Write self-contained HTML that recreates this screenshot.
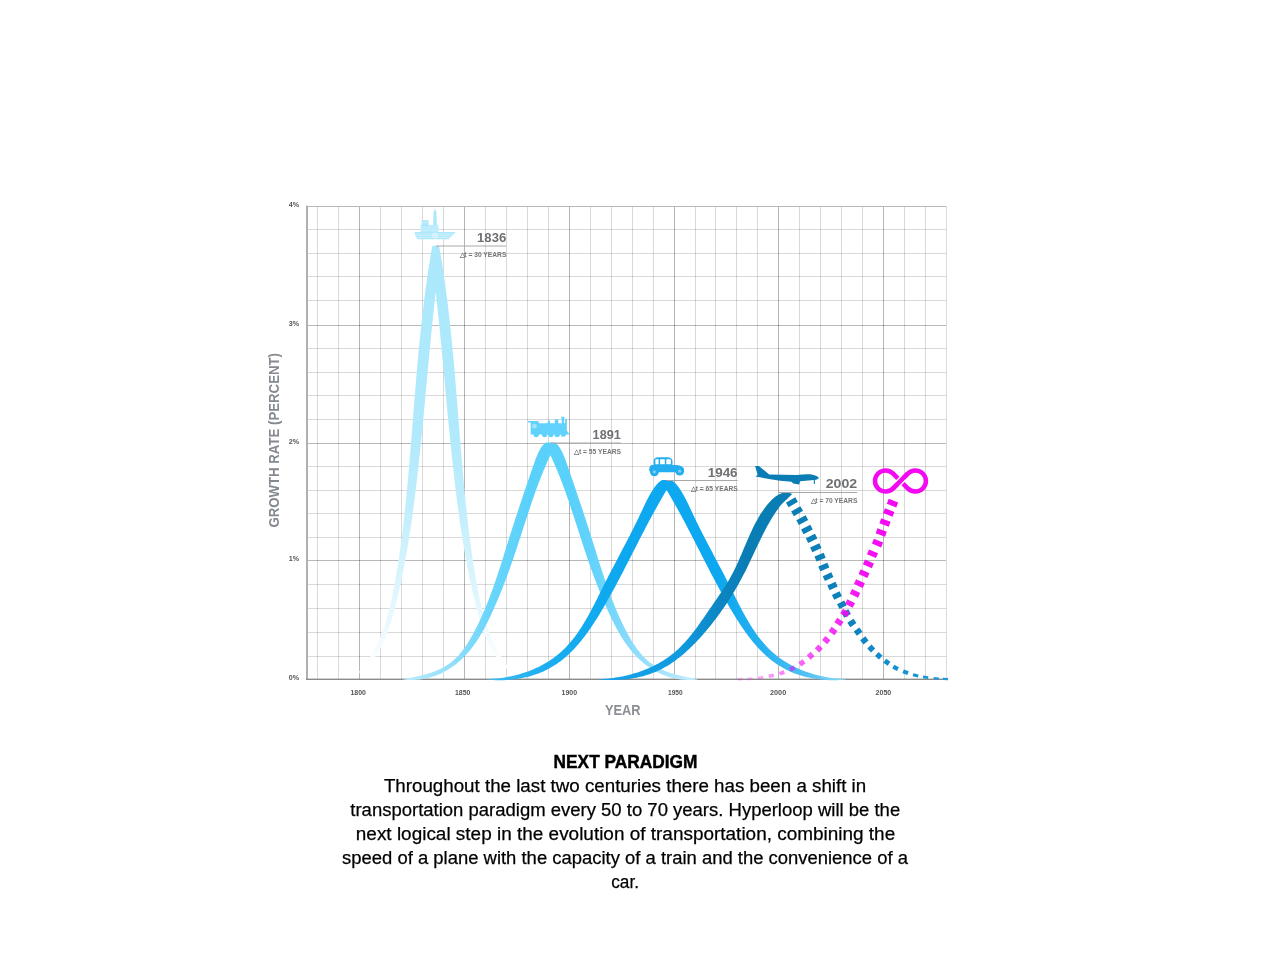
<!DOCTYPE html>
<html lang="en">
<head>
<meta charset="utf-8">
<title>Next Paradigm</title>
<style>
html,body{margin:0;padding:0;background:#fff;}
body{width:1280px;height:960px;overflow:hidden;position:relative;}
svg{position:absolute;left:0;top:0;display:block;font-family:"Liberation Sans",sans-serif;}
</style>
</head>
<body>
<svg width="1280" height="960" viewBox="0 0 1280 960">
<defs>
<linearGradient id="g1" gradientUnits="userSpaceOnUse" x1="0" y1="246" x2="0" y2="680"><stop offset="0" stop-color="#ace8fb"/><stop offset="0.4009" stop-color="#aee9fc"/><stop offset="0.5853" stop-color="#beedfc"/><stop offset="0.7235" stop-color="#d3f3fd"/><stop offset="0.8618" stop-color="#e9f8fe"/><stop offset="0.9539" stop-color="#fbfeff"/><stop offset="1" stop-color="#ffffff"/></linearGradient>
<linearGradient id="g2" gradientUnits="userSpaceOnUse" x1="402" y1="0" x2="697" y2="0"><stop offset="0" stop-color="#bdecfc"/><stop offset="0.1458" stop-color="#98e0fa"/><stop offset="0.2983" stop-color="#6ad5fb"/><stop offset="0.4339" stop-color="#5ad1fb"/><stop offset="0.5864" stop-color="#5ad1fb"/><stop offset="0.6712" stop-color="#68d4fb"/><stop offset="0.7559" stop-color="#84dafb"/><stop offset="0.8746" stop-color="#a4e3fb"/><stop offset="1" stop-color="#c6eefd"/></linearGradient>
<linearGradient id="g3" gradientUnits="userSpaceOnUse" x1="486" y1="0" x2="846" y2="0"><stop offset="0" stop-color="#3cbaf3"/><stop offset="0.2056" stop-color="#17acf0"/><stop offset="0.3722" stop-color="#0da8ef"/><stop offset="0.65" stop-color="#0da8ef"/><stop offset="0.7611" stop-color="#25b0f0"/><stop offset="0.8722" stop-color="#4bbff2"/><stop offset="1" stop-color="#86d6f7"/></linearGradient>
<linearGradient id="g4" gradientUnits="userSpaceOnUse" x1="599" y1="0" x2="793" y2="0"><stop offset="0" stop-color="#16a4ea"/><stop offset="0.4175" stop-color="#109be0"/><stop offset="0.5979" stop-color="#0c88c6"/><stop offset="0.7526" stop-color="#0a7db5"/><stop offset="1" stop-color="#0a7db5"/></linearGradient>
<linearGradient id="g4d" gradientUnits="userSpaceOnUse" x1="790" y1="0" x2="946" y2="0"><stop offset="0" stop-color="#0a7db5"/><stop offset="0.3846" stop-color="#0d82bc"/><stop offset="0.641" stop-color="#128fcf"/><stop offset="1" stop-color="#1a9cde"/></linearGradient>
<linearGradient id="g5" gradientUnits="userSpaceOnUse" x1="745" y1="0" x2="895" y2="0"><stop offset="0" stop-color="#f408f2" stop-opacity="0.2"/><stop offset="0.2" stop-color="#f408f2" stop-opacity="0.45"/><stop offset="0.4333" stop-color="#f408f2" stop-opacity="0.68"/><stop offset="0.6333" stop-color="#f408f2" stop-opacity="0.86"/><stop offset="0.8" stop-color="#f408f2" stop-opacity="0.97"/><stop offset="1" stop-color="#f408f2"/></linearGradient>
</defs>
<rect width="1280" height="960" fill="#fff"/>
<g id="grid">
<path d="M317.56 206.25V679.4M338.53 206.25V679.4M380.47 206.25V679.4M401.44 206.25V679.4M422.41 206.25V679.4M443.38 206.25V679.4M485.32 206.25V679.4M506.29 206.25V679.4M527.26 206.25V679.4M548.23 206.25V679.4M590.17 206.25V679.4M611.14 206.25V679.4M632.11 206.25V679.4M653.08 206.25V679.4M695.02 206.25V679.4M715.99 206.25V679.4M736.96 206.25V679.4M757.93 206.25V679.4M799.87 206.25V679.4M820.84 206.25V679.4M841.81 206.25V679.4M862.78 206.25V679.4M904.72 206.25V679.4M925.69 206.25V679.4" stroke="#000" stroke-opacity="0.15" stroke-width="1" fill="none" shape-rendering="crispEdges"/>
<path d="M307.25 229.5H946.66M307.25 253.5H946.66M307.25 276.4H946.66M307.25 300.5H946.66M307.25 348.6H946.66M307.25 372.5H946.66M307.25 395.7H946.66M307.25 419.5H946.66M307.25 466.4H946.66M307.25 490.4H946.66M307.25 513.5H946.66M307.25 537.3H946.66M307.25 584.5H946.66M307.25 608.4H946.66M307.25 632.3H946.66M307.25 656H946.66" stroke="#000" stroke-opacity="0.15" stroke-width="1" fill="none" shape-rendering="crispEdges"/>
<path d="M359.5 206.25V679.4M464.35 206.25V679.4M569.2 206.25V679.4M674.05 206.25V679.4M778.9 206.25V679.4M883.75 206.25V679.4" stroke="#000" stroke-opacity="0.29" stroke-width="1" fill="none" shape-rendering="crispEdges"/>
<path d="M307.25 325.5H946.66M307.25 443.3H946.66M307.25 560.5H946.66" stroke="#000" stroke-opacity="0.28" stroke-width="1" fill="none" shape-rendering="crispEdges"/>
<rect x="306" y="206" width="641" height="1" fill="#b8b8b8"/>
<rect x="946" y="206" width="1" height="473" fill="#dcdcdc"/>
<rect x="306" y="205.6" width="2" height="474.4" fill="#b0b0b0"/>
<rect x="306" y="678.6" width="641.2" height="1.4" fill="#8a8a8a"/>
</g>
<g id="curves">
<path d="M359.2 671.5L361.32 669.08L363.34 666.61L365.28 664.11L367.13 661.56L368.9 658.98L370.59 656.36L372.21 653.71L373.75 651.02L375.22 648.3L376.62 645.55L377.96 642.76L379.23 639.95L380.44 637.12L381.59 634.25L382.69 631.37L383.73 628.45L384.73 625.52L385.67 622.57L386.57 619.6L387.43 616.61L388.25 613.6L389.03 610.58L389.77 607.54L390.49 604.5L391.17 601.44L391.83 598.37L392.46 595.29L393.08 592.21L393.67 589.12L394.24 586.03L394.81 582.93L395.36 579.83L395.89 576.73L396.42 573.63L396.93 570.53L397.44 567.42L397.93 564.31L398.41 561.2L398.88 558.09L399.34 554.97L399.79 551.86L400.23 548.74L400.66 545.62L401.08 542.5L401.49 539.38L401.89 536.26L402.28 533.13L402.67 530.01L403.05 526.88L403.41 523.75L403.78 520.62L404.13 517.49L404.48 514.36L404.82 511.23L405.15 508.1L405.48 504.97L405.8 501.84L406.12 498.7L406.43 495.57L406.73 492.43L407.03 489.3L407.33 486.16L407.62 483.03L407.9 479.89L408.18 476.76L408.46 473.62L408.74 470.49L409.01 467.35L409.28 464.22L409.54 461.09L409.81 457.95L410.07 454.82L410.33 451.69L410.58 448.55L410.84 445.42L411.09 442.29L411.34 439.15L411.59 436.02L411.84 432.89L412.09 429.76L412.34 426.63L412.59 423.5L412.83 420.37L413.08 417.24L413.33 414.11L413.58 410.98L413.82 407.85L414.07 404.72L414.32 401.6L414.57 398.47L414.83 395.34L415.08 392.22L415.33 389.09L415.59 385.96L415.85 382.84L416.11 379.71L416.38 376.59L416.64 373.46L416.91 370.34L417.19 367.22L417.46 364.09L417.74 360.97L418.03 357.85L418.31 354.73L418.6 351.61L418.9 348.49L419.2 345.37L419.5 342.25L419.81 339.13L420.13 336.01L420.45 332.89L420.77 329.77L421.1 326.66L421.44 323.54L421.78 320.42L422.13 317.31L422.48 314.19L422.84 311.08L423.21 307.96L423.59 304.85L423.97 301.74L424.36 298.62L424.76 295.51L425.16 292.4L425.57 289.29L425.99 286.18L426.42 283.07L426.86 279.96L427.31 276.85L427.76 273.74L428.23 270.64L428.7 267.53L429.19 264.42L429.68 261.32L430.18 258.21L430.69 255.11L431.22 252L431.75 248.9L432.3 245.8L439.1 245.8L439.65 248.9L440.18 252L440.71 255.11L441.22 258.21L441.72 261.32L442.21 264.42L442.7 267.53L443.17 270.64L443.64 273.74L444.09 276.85L444.54 279.96L444.98 283.07L445.41 286.18L445.83 289.29L446.24 292.4L446.64 295.51L447.04 298.62L447.43 301.74L447.81 304.85L448.19 307.96L448.56 311.08L448.92 314.19L449.27 317.31L449.62 320.42L449.96 323.54L450.3 326.66L450.63 329.77L450.95 332.89L451.27 336.01L451.59 339.13L451.9 342.25L452.2 345.37L452.5 348.49L452.8 351.61L453.09 354.73L453.37 357.85L453.66 360.97L453.94 364.09L454.21 367.22L454.49 370.34L454.76 373.46L455.02 376.59L455.29 379.71L455.55 382.84L455.81 385.96L456.07 389.09L456.32 392.22L456.57 395.34L456.83 398.47L457.08 401.6L457.33 404.72L457.58 407.85L457.82 410.98L458.07 414.11L458.32 417.24L458.57 420.37L458.81 423.5L459.06 426.63L459.31 429.76L459.56 432.89L459.81 436.02L460.06 439.15L460.31 442.29L460.56 445.42L460.82 448.55L461.07 451.69L461.33 454.82L461.59 457.95L461.86 461.09L462.12 464.22L462.39 467.35L462.66 470.49L462.94 473.62L463.22 476.76L463.5 479.89L463.78 483.03L464.07 486.16L464.37 489.3L464.67 492.43L464.97 495.57L465.28 498.7L465.6 501.84L465.92 504.97L466.25 508.1L466.58 511.23L466.92 514.36L467.27 517.49L467.62 520.62L467.99 523.75L468.35 526.88L468.73 530.01L469.12 533.13L469.51 536.26L469.91 539.38L470.32 542.5L470.74 545.62L471.17 548.74L471.61 551.86L472.06 554.97L472.52 558.09L472.99 561.2L473.47 564.31L473.96 567.42L474.47 570.53L474.98 573.63L475.51 576.73L476.04 579.83L476.59 582.93L477.16 586.03L477.73 589.12L478.32 592.21L478.94 595.29L479.57 598.37L480.23 601.44L480.91 604.5L481.63 607.54L482.37 610.58L483.15 613.6L483.97 616.61L484.83 619.6L485.73 622.57L486.67 625.52L487.67 628.45L488.71 631.37L489.81 634.25L490.96 637.12L492.17 639.95L493.44 642.76L494.78 645.55L496.18 648.3L497.65 651.02L499.19 653.71L500.81 656.36L502.5 658.98L504.27 661.56L506.12 664.11L508.06 666.61L510.08 669.08L512.2 671.5L512.2 673L509.87 671.22L507.65 669.37L505.53 667.45L503.52 665.46L501.6 663.41L499.77 661.3L498.04 659.13L496.39 656.91L494.82 654.63L493.33 652.31L491.92 649.94L490.58 647.52L489.3 645.06L488.09 642.56L486.94 640.03L485.85 637.46L484.81 634.86L483.82 632.24L482.87 629.58L481.97 626.91L481.1 624.21L480.27 621.5L479.46 618.77L478.69 616.02L477.94 613.27L477.2 610.51L476.48 607.75L475.78 604.98L475.09 602.21L474.41 599.44L473.75 596.66L473.09 593.89L472.45 591.11L471.82 588.32L471.2 585.54L470.6 582.75L470 579.96L469.42 577.17L468.85 574.38L468.28 571.58L467.73 568.79L467.19 565.99L466.66 563.19L466.14 560.38L465.63 557.58L465.12 554.77L464.63 551.97L464.15 549.16L463.67 546.35L463.2 543.54L462.74 540.72L462.29 537.91L461.85 535.09L461.42 532.28L460.99 529.46L460.57 526.64L460.16 523.82L459.75 521.01L459.35 518.18L458.96 515.36L458.57 512.54L458.19 509.72L457.81 506.9L457.45 504.07L457.08 501.25L456.72 498.43L456.37 495.6L456.02 492.78L455.68 489.96L455.34 487.13L455 484.31L454.67 481.49L454.34 478.66L454.02 475.84L453.7 473.01L453.38 470.19L453.07 467.37L452.76 464.54L452.45 461.72L452.15 458.9L451.85 456.07L451.55 453.25L451.26 450.43L450.97 447.6L450.68 444.78L450.39 441.95L450.11 439.13L449.83 436.31L449.55 433.48L449.27 430.66L448.99 427.83L448.72 425.01L448.45 422.19L448.18 419.36L447.91 416.54L447.64 413.71L447.37 410.89L447.11 408.07L446.84 405.24L446.58 402.42L446.32 399.59L446.05 396.77L445.79 393.94L445.53 391.12L445.27 388.29L445.01 385.47L444.75 382.65L444.49 379.82L444.22 377L443.96 374.17L443.7 371.35L443.44 368.52L443.17 365.7L442.91 362.87L442.64 360.04L442.38 357.22L442.11 354.39L441.84 351.57L441.57 348.74L441.3 345.92L441.03 343.09L440.75 340.26L440.48 337.44L440.2 334.61L439.92 331.78L439.63 328.96L439.35 326.13L439.06 323.3L438.77 320.48L438.48 317.65L438.18 314.82L437.89 311.99L437.58 309.17L437.28 306.34L436.97 303.51L436.66 300.68L436.35 297.86L436.03 295.03L435.71 292.2L435.69 292.2L435.37 295.03L435.05 297.86L434.74 300.68L434.43 303.51L434.12 306.34L433.82 309.17L433.51 311.99L433.22 314.82L432.92 317.65L432.63 320.48L432.34 323.3L432.05 326.13L431.77 328.96L431.48 331.78L431.2 334.61L430.92 337.44L430.65 340.26L430.37 343.09L430.1 345.92L429.83 348.74L429.56 351.57L429.29 354.39L429.02 357.22L428.76 360.04L428.49 362.87L428.23 365.7L427.96 368.52L427.7 371.35L427.44 374.17L427.18 377L426.91 379.82L426.65 382.65L426.39 385.47L426.13 388.29L425.87 391.12L425.61 393.94L425.35 396.77L425.08 399.59L424.82 402.42L424.56 405.24L424.29 408.07L424.03 410.89L423.76 413.71L423.49 416.54L423.22 419.36L422.95 422.19L422.68 425.01L422.41 427.83L422.13 430.66L421.85 433.48L421.57 436.31L421.29 439.13L421.01 441.95L420.72 444.78L420.43 447.6L420.14 450.43L419.85 453.25L419.55 456.07L419.25 458.9L418.95 461.72L418.64 464.54L418.33 467.37L418.02 470.19L417.7 473.01L417.38 475.84L417.06 478.66L416.73 481.49L416.4 484.31L416.06 487.13L415.72 489.96L415.38 492.78L415.03 495.6L414.68 498.43L414.32 501.25L413.95 504.07L413.59 506.9L413.21 509.72L412.83 512.54L412.44 515.36L412.05 518.18L411.65 521.01L411.24 523.82L410.83 526.64L410.41 529.46L409.98 532.28L409.55 535.09L409.11 537.91L408.66 540.72L408.2 543.54L407.73 546.35L407.25 549.16L406.77 551.97L406.28 554.77L405.77 557.58L405.26 560.38L404.74 563.19L404.21 565.99L403.67 568.79L403.12 571.58L402.55 574.38L401.98 577.17L401.4 579.96L400.8 582.75L400.2 585.54L399.58 588.32L398.95 591.11L398.31 593.89L397.65 596.66L396.99 599.44L396.31 602.21L395.62 604.98L394.92 607.75L394.2 610.51L393.46 613.27L392.71 616.02L391.94 618.77L391.13 621.5L390.3 624.21L389.43 626.91L388.53 629.58L387.58 632.24L386.59 634.86L385.55 637.46L384.46 640.03L383.31 642.56L382.1 645.06L380.82 647.52L379.48 649.94L378.07 652.31L376.58 654.63L375.01 656.91L373.36 659.13L371.63 661.3L369.8 663.41L367.88 665.46L365.87 667.45L363.75 669.37L361.53 671.22L359.2 673Z" fill="url(#g1)"/>
<path d="M403.4 679L405.28 678.67L407.21 678.32L409.18 677.96L411.19 677.57L413.24 677.17L415.31 676.75L417.41 676.29L419.52 675.81L421.64 675.3L423.77 674.75L425.9 674.17L428.02 673.55L430.14 672.89L432.24 672.19L434.31 671.44L436.36 670.64L438.38 669.79L440.36 668.88L442.29 667.92L444.18 666.91L446.01 665.83L447.78 664.69L449.5 663.48L451.16 662.22L452.76 660.91L454.32 659.54L455.82 658.12L457.28 656.65L458.69 655.14L460.05 653.59L461.38 651.99L462.66 650.36L463.91 648.69L465.12 646.99L466.3 645.27L467.45 643.51L468.56 641.73L469.65 639.93L470.72 638.11L471.76 636.27L472.78 634.42L473.78 632.56L474.77 630.69L475.73 628.81L476.69 626.93L477.62 625.04L478.54 623.14L479.45 621.23L480.34 619.32L481.22 617.4L482.09 615.47L482.94 613.54L483.78 611.61L484.6 609.66L485.42 607.72L486.22 605.76L487.01 603.8L487.79 601.84L488.56 599.88L489.32 597.9L490.07 595.93L490.81 593.95L491.54 591.97L492.27 589.98L492.98 587.99L493.69 586L494.39 584L495.08 582.01L495.76 580L496.44 578L497.11 576L497.78 573.99L498.44 571.98L499.1 569.97L499.75 567.96L500.4 565.95L501.05 563.94L501.69 561.93L502.33 559.91L502.96 557.9L503.59 555.89L504.23 553.87L504.86 551.86L505.48 549.85L506.11 547.84L506.74 545.83L507.37 543.82L508 541.81L508.62 539.81L509.25 537.81L509.89 535.81L510.52 533.81L511.15 531.81L511.79 529.81L512.43 527.82L513.07 525.83L513.71 523.83L514.35 521.84L515 519.85L515.65 517.86L516.3 515.88L516.95 513.89L517.6 511.9L518.26 509.91L518.91 507.92L519.57 505.93L520.23 503.94L520.9 501.95L521.56 499.95L522.23 497.96L522.9 495.96L523.58 493.97L524.25 491.97L524.93 489.97L525.61 487.96L526.29 485.96L526.97 483.95L527.66 481.94L528.35 479.92L529.04 477.9L529.74 475.88L530.44 473.86L531.14 471.83L531.84 469.8L532.55 467.76L533.25 465.72L533.97 463.68L534.69 461.64L535.44 459.61L536.21 457.61L537.01 455.63L537.86 453.69L538.75 451.8L539.7 449.95L540.72 448.17L541.82 446.47L543.06 444.91L544.5 443.57L546.2 442.5L554.6 442.5L556.3 443.57L557.74 444.91L558.98 446.47L560.08 448.17L561.1 449.95L562.05 451.8L562.94 453.69L563.79 455.63L564.59 457.61L565.36 459.61L566.11 461.64L566.83 463.68L567.55 465.72L568.25 467.76L568.96 469.8L569.66 471.83L570.36 473.86L571.06 475.88L571.76 477.9L572.45 479.92L573.14 481.94L573.83 483.95L574.51 485.96L575.19 487.96L575.87 489.97L576.55 491.97L577.22 493.97L577.9 495.96L578.57 497.96L579.24 499.95L579.9 501.95L580.57 503.94L581.23 505.93L581.89 507.92L582.54 509.91L583.2 511.9L583.85 513.89L584.5 515.88L585.15 517.86L585.8 519.85L586.45 521.84L587.09 523.83L587.73 525.83L588.37 527.82L589.01 529.81L589.65 531.81L590.28 533.81L590.91 535.81L591.55 537.81L592.18 539.81L592.8 541.81L593.43 543.82L594.06 545.83L594.69 547.84L595.32 549.85L595.94 551.86L596.57 553.87L597.21 555.89L597.84 557.9L598.47 559.91L599.11 561.93L599.75 563.94L600.4 565.95L601.05 567.96L601.7 569.97L602.36 571.98L603.02 573.99L603.69 576L604.36 578L605.04 580L605.72 582.01L606.41 584L607.11 586L607.82 587.99L608.53 589.98L609.26 591.97L609.99 593.95L610.73 595.93L611.48 597.9L612.24 599.88L613.01 601.84L613.79 603.8L614.58 605.76L615.38 607.72L616.2 609.66L617.02 611.61L617.86 613.54L618.71 615.47L619.58 617.4L620.46 619.32L621.35 621.23L622.26 623.14L623.18 625.04L624.11 626.93L625.07 628.81L626.03 630.69L627.02 632.56L628.02 634.42L629.04 636.27L630.08 638.11L631.15 639.93L632.24 641.73L633.35 643.51L634.5 645.27L635.68 646.99L636.89 648.69L638.14 650.36L639.42 651.99L640.75 653.59L642.11 655.14L643.52 656.65L644.98 658.12L646.48 659.54L648.04 660.91L649.64 662.22L651.3 663.48L653.02 664.69L654.79 665.83L656.62 666.91L658.51 667.92L660.44 668.88L662.42 669.79L664.44 670.64L666.49 671.44L668.56 672.19L670.66 672.89L672.78 673.55L674.9 674.17L677.03 674.75L679.16 675.3L681.28 675.81L683.39 676.29L685.49 676.75L687.56 677.17L689.61 677.57L691.62 677.96L693.59 678.32L695.52 678.67L697.4 679L697.4 679.6L695.17 679.81L692.95 679.95L690.75 680.02L688.58 680.03L686.42 679.97L684.28 679.84L682.17 679.65L680.08 679.39L678 679.08L675.95 678.7L673.92 678.27L671.92 677.77L669.94 677.22L667.98 676.61L666.05 675.95L664.14 675.23L662.26 674.47L660.4 673.65L658.57 672.78L656.76 671.86L654.98 670.89L653.23 669.88L651.51 668.82L649.82 667.72L648.15 666.57L646.52 665.38L644.91 664.15L643.33 662.89L641.79 661.58L640.27 660.23L638.79 658.85L637.34 657.44L635.92 655.99L634.53 654.51L633.17 653L631.84 651.45L630.55 649.88L629.28 648.28L628.04 646.66L626.82 645L625.63 643.33L624.47 641.63L623.33 639.91L622.22 638.17L621.12 636.4L620.05 634.62L619 632.83L617.97 631.01L616.96 629.19L615.97 627.34L614.99 625.49L614.03 623.62L613.09 621.75L612.16 619.86L611.25 617.97L610.35 616.07L609.46 614.17L608.58 612.26L607.72 610.35L606.86 608.43L606.02 606.52L605.18 604.6L604.35 602.69L603.54 600.77L602.73 598.85L601.92 596.93L601.13 595.01L600.35 593.09L599.57 591.17L598.8 589.24L598.04 587.31L597.28 585.39L596.53 583.46L595.79 581.53L595.06 579.59L594.33 577.66L593.61 575.73L592.9 573.79L592.19 571.85L591.49 569.91L590.8 567.97L590.11 566.02L589.42 564.08L588.74 562.13L588.07 560.18L587.4 558.23L586.74 556.27L586.08 554.32L585.42 552.36L584.77 550.4L584.12 548.44L583.48 546.48L582.83 544.52L582.19 542.55L581.55 540.59L580.92 538.62L580.28 536.66L579.65 534.69L579.02 532.72L578.38 530.76L577.75 528.79L577.12 526.82L576.48 524.85L575.85 522.89L575.21 520.92L574.57 518.95L573.93 516.99L573.29 515.02L572.64 513.06L572 511.1L571.34 509.14L570.69 507.18L570.03 505.22L569.37 503.26L568.7 501.3L568.03 499.35L567.35 497.4L566.66 495.45L565.97 493.5L565.28 491.56L564.57 489.61L563.86 487.67L563.15 485.73L562.42 483.8L561.69 481.87L560.95 479.94L560.2 478.01L559.44 476.09L558.67 474.17L557.89 472.26L557.11 470.34L556.31 468.44L555.5 466.53L554.68 464.63L553.85 462.74L553 460.85L552.15 458.96L551.28 457.08L550.4 455.2L550.4 455.2L549.52 457.08L548.65 458.96L547.8 460.85L546.95 462.74L546.12 464.63L545.3 466.53L544.49 468.44L543.69 470.34L542.91 472.26L542.13 474.17L541.36 476.09L540.6 478.01L539.85 479.94L539.11 481.87L538.38 483.8L537.65 485.73L536.94 487.67L536.23 489.61L535.52 491.56L534.83 493.5L534.14 495.45L533.45 497.4L532.77 499.35L532.1 501.3L531.43 503.26L530.77 505.22L530.11 507.18L529.46 509.14L528.8 511.1L528.16 513.06L527.51 515.02L526.87 516.99L526.23 518.95L525.59 520.92L524.95 522.89L524.32 524.85L523.68 526.82L523.05 528.79L522.42 530.76L521.78 532.72L521.15 534.69L520.52 536.66L519.88 538.62L519.25 540.59L518.61 542.55L517.97 544.52L517.32 546.48L516.68 548.44L516.03 550.4L515.38 552.36L514.72 554.32L514.06 556.27L513.4 558.23L512.73 560.18L512.06 562.13L511.38 564.08L510.69 566.02L510 567.97L509.31 569.91L508.61 571.85L507.9 573.79L507.19 575.73L506.47 577.66L505.74 579.59L505.01 581.53L504.27 583.46L503.52 585.39L502.76 587.31L502 589.24L501.23 591.17L500.45 593.09L499.67 595.01L498.88 596.93L498.07 598.85L497.26 600.77L496.45 602.69L495.62 604.6L494.78 606.52L493.94 608.43L493.08 610.35L492.22 612.26L491.34 614.17L490.45 616.07L489.55 617.97L488.64 619.86L487.71 621.75L486.77 623.62L485.81 625.49L484.83 627.34L483.84 629.19L482.83 631.01L481.8 632.83L480.75 634.62L479.68 636.4L478.58 638.17L477.47 639.91L476.33 641.63L475.17 643.33L473.98 645L472.76 646.66L471.52 648.28L470.25 649.88L468.96 651.45L467.63 653L466.27 654.51L464.88 655.99L463.46 657.44L462.01 658.85L460.53 660.23L459.01 661.58L457.47 662.89L455.89 664.15L454.28 665.38L452.65 666.57L450.98 667.72L449.29 668.82L447.57 669.88L445.82 670.89L444.04 671.86L442.23 672.78L440.4 673.65L438.54 674.47L436.66 675.23L434.75 675.95L432.82 676.61L430.86 677.22L428.88 677.77L426.88 678.27L424.85 678.7L422.8 679.08L420.72 679.39L418.63 679.65L416.52 679.84L414.38 679.97L412.22 680.03L410.05 680.02L407.85 679.95L405.63 679.81L403.4 679.6Z" fill="url(#g2)"/>
<path d="M487.6 679L489.56 678.95L491.54 678.87L493.51 678.76L495.5 678.61L497.49 678.42L499.49 678.21L501.49 677.96L503.49 677.67L505.49 677.36L507.49 677.01L509.49 676.62L511.49 676.21L513.48 675.76L515.47 675.27L517.46 674.76L519.43 674.21L521.4 673.62L523.36 673.01L525.31 672.36L527.24 671.68L529.17 670.96L531.08 670.21L532.97 669.43L534.85 668.62L536.72 667.77L538.56 666.89L540.38 665.98L542.19 665.04L543.97 664.06L545.73 663.05L547.46 662.01L549.17 660.94L550.86 659.83L552.51 658.69L554.14 657.52L555.74 656.32L557.31 655.08L558.84 653.82L560.35 652.52L561.82 651.19L563.26 649.83L564.67 648.44L566.06 647.02L567.41 645.58L568.74 644.11L570.05 642.62L571.33 641.1L572.58 639.56L573.81 637.99L575.02 636.41L576.2 634.8L577.37 633.17L578.51 631.53L579.64 629.86L580.74 628.18L581.83 626.49L582.9 624.77L583.96 623.05L585 621.31L586.03 619.56L587.04 617.79L588.04 616.02L589.02 614.24L590 612.44L590.97 610.64L591.92 608.83L592.87 607.02L593.81 605.2L594.74 603.38L595.67 601.55L596.59 599.72L597.51 597.89L598.42 596.06L599.33 594.23L600.24 592.4L601.15 590.57L602.06 588.74L602.96 586.92L603.87 585.11L604.78 583.3L605.7 581.49L606.61 579.69L607.53 577.9L608.45 576.11L609.37 574.32L610.3 572.54L611.22 570.77L612.15 568.99L613.08 567.22L614.01 565.45L614.94 563.69L615.87 561.92L616.8 560.16L617.73 558.4L618.66 556.64L619.59 554.88L620.52 553.11L621.45 551.35L622.38 549.59L623.31 547.82L624.24 546.05L625.17 544.28L626.1 542.51L627.02 540.74L627.94 538.96L628.86 537.17L629.78 535.39L630.7 533.59L631.62 531.8L632.53 530L633.44 528.19L634.35 526.37L635.25 524.55L636.15 522.72L637.05 520.89L637.94 519.04L638.83 517.19L639.72 515.33L640.6 513.46L641.48 511.58L642.36 509.69L643.24 507.81L644.12 505.92L645.01 504.04L645.92 502.17L646.84 500.32L647.77 498.49L648.73 496.68L649.72 494.89L650.73 493.14L651.77 491.42L652.85 489.74L653.97 488.1L655.13 486.52L656.33 484.98L657.6 483.52L658.97 482.19L660.49 481.03L662.2 480.1L671 480.1L672.71 481.03L674.23 482.19L675.6 483.52L676.87 484.98L678.07 486.52L679.23 488.1L680.35 489.74L681.43 491.42L682.47 493.14L683.48 494.89L684.47 496.68L685.43 498.49L686.36 500.32L687.28 502.17L688.19 504.04L689.08 505.92L689.96 507.81L690.84 509.69L691.72 511.58L692.6 513.46L693.48 515.33L694.37 517.19L695.26 519.04L696.15 520.89L697.05 522.72L697.95 524.55L698.85 526.37L699.76 528.19L700.67 530L701.58 531.8L702.5 533.59L703.42 535.39L704.34 537.17L705.26 538.96L706.18 540.74L707.1 542.51L708.03 544.28L708.96 546.05L709.89 547.82L710.82 549.59L711.75 551.35L712.68 553.11L713.61 554.88L714.54 556.64L715.47 558.4L716.4 560.16L717.33 561.92L718.26 563.69L719.19 565.45L720.12 567.22L721.05 568.99L721.98 570.77L722.9 572.54L723.83 574.32L724.75 576.11L725.67 577.9L726.59 579.69L727.5 581.49L728.42 583.3L729.33 585.11L730.24 586.92L731.14 588.74L732.05 590.57L732.96 592.4L733.87 594.23L734.78 596.06L735.69 597.89L736.61 599.72L737.53 601.55L738.46 603.38L739.39 605.2L740.33 607.02L741.28 608.83L742.23 610.64L743.2 612.44L744.18 614.24L745.16 616.02L746.16 617.79L747.17 619.56L748.2 621.31L749.24 623.05L750.3 624.77L751.37 626.49L752.46 628.18L753.56 629.86L754.69 631.53L755.83 633.17L757 634.8L758.18 636.41L759.39 637.99L760.62 639.56L761.87 641.1L763.15 642.62L764.46 644.11L765.79 645.58L767.14 647.02L768.53 648.44L769.94 649.83L771.38 651.19L772.85 652.52L774.36 653.82L775.89 655.08L777.46 656.32L779.06 657.52L780.69 658.69L782.34 659.83L784.03 660.94L785.74 662.01L787.47 663.05L789.23 664.06L791.01 665.04L792.82 665.98L794.64 666.89L796.48 667.77L798.35 668.62L800.23 669.43L802.12 670.21L804.03 670.96L805.96 671.68L807.89 672.36L809.84 673.01L811.8 673.62L813.77 674.21L815.74 674.76L817.73 675.27L819.72 675.76L821.71 676.21L823.71 676.62L825.71 677.01L827.71 677.36L829.71 677.67L831.71 677.96L833.71 678.21L835.71 678.42L837.7 678.61L839.69 678.76L841.66 678.87L843.64 678.95L845.6 679L845.6 679.6L843.58 679.79L841.56 679.94L839.53 680.06L837.49 680.15L835.45 680.2L833.4 680.21L831.36 680.19L829.31 680.13L827.26 680.04L825.21 679.91L823.17 679.75L821.12 679.55L819.09 679.32L817.05 679.05L815.03 678.74L813.01 678.4L811.01 678.02L809.01 677.6L807.03 677.15L805.05 676.66L803.1 676.13L801.15 675.57L799.23 674.96L797.32 674.33L795.43 673.65L793.56 672.93L791.71 672.18L789.88 671.39L788.07 670.56L786.29 669.69L784.54 668.79L782.81 667.85L781.11 666.86L779.44 665.85L777.79 664.79L776.16 663.7L774.56 662.58L772.99 661.42L771.44 660.23L769.91 659.01L768.4 657.76L766.92 656.47L765.46 655.16L764.02 653.83L762.6 652.46L761.2 651.07L759.82 649.65L758.46 648.21L757.12 646.74L755.8 645.26L754.49 643.75L753.21 642.22L751.94 640.67L750.69 639.1L749.45 637.51L748.23 635.91L747.02 634.29L745.83 632.65L744.65 631L743.49 629.34L742.34 627.67L741.2 625.98L740.08 624.28L738.96 622.57L737.86 620.85L736.77 619.13L735.69 617.39L734.62 615.65L733.56 613.91L732.5 612.16L731.46 610.41L730.42 608.65L729.39 606.89L728.37 605.13L727.36 603.37L726.35 601.61L725.35 599.84L724.35 598.08L723.36 596.31L722.38 594.54L721.4 592.77L720.43 591L719.46 589.22L718.5 587.45L717.55 585.67L716.59 583.9L715.65 582.12L714.7 580.34L713.76 578.56L712.83 576.78L711.89 575L710.96 573.22L710.03 571.44L709.11 569.65L708.19 567.87L707.27 566.09L706.35 564.3L705.43 562.52L704.52 560.73L703.61 558.95L702.7 557.17L701.78 555.38L700.87 553.6L699.96 551.81L699.05 550.03L698.14 548.24L697.23 546.46L696.32 544.68L695.41 542.89L694.5 541.11L693.59 539.33L692.67 537.55L691.75 535.77L690.84 533.99L689.92 532.21L688.99 530.43L688.07 528.65L687.14 526.87L686.21 525.1L685.27 523.32L684.34 521.55L683.39 519.78L682.45 518.01L681.5 516.24L680.55 514.47L679.59 512.7L678.62 510.94L677.65 509.17L676.68 507.41L675.7 505.65L674.72 503.89L673.73 502.14L672.73 500.38L671.72 498.63L670.71 496.88L669.7 495.13L668.67 493.38L667.64 491.64L666.6 489.9L666.6 489.9L665.56 491.64L664.53 493.38L663.5 495.13L662.49 496.88L661.48 498.63L660.47 500.38L659.47 502.14L658.48 503.89L657.5 505.65L656.52 507.41L655.55 509.17L654.58 510.94L653.61 512.7L652.65 514.47L651.7 516.24L650.75 518.01L649.81 519.78L648.86 521.55L647.93 523.32L646.99 525.1L646.06 526.87L645.13 528.65L644.21 530.43L643.28 532.21L642.36 533.99L641.45 535.77L640.53 537.55L639.61 539.33L638.7 541.11L637.79 542.89L636.88 544.68L635.97 546.46L635.06 548.24L634.15 550.03L633.24 551.81L632.33 553.6L631.42 555.38L630.5 557.17L629.59 558.95L628.68 560.73L627.77 562.52L626.85 564.3L625.93 566.09L625.01 567.87L624.09 569.65L623.17 571.44L622.24 573.22L621.31 575L620.37 576.78L619.44 578.56L618.5 580.34L617.55 582.12L616.61 583.9L615.65 585.67L614.7 587.45L613.74 589.22L612.77 591L611.8 592.77L610.82 594.54L609.84 596.31L608.85 598.08L607.85 599.84L606.85 601.61L605.84 603.37L604.83 605.13L603.81 606.89L602.78 608.65L601.74 610.41L600.7 612.16L599.64 613.91L598.58 615.65L597.51 617.39L596.43 619.13L595.34 620.85L594.24 622.57L593.12 624.28L592 625.98L590.86 627.67L589.71 629.34L588.55 631L587.37 632.65L586.18 634.29L584.97 635.91L583.75 637.51L582.51 639.1L581.26 640.67L579.99 642.22L578.71 643.75L577.4 645.26L576.08 646.74L574.74 648.21L573.38 649.65L572 651.07L570.6 652.46L569.18 653.83L567.74 655.16L566.28 656.47L564.8 657.76L563.29 659.01L561.76 660.23L560.21 661.42L558.64 662.58L557.04 663.7L555.41 664.79L553.76 665.85L552.09 666.86L550.39 667.85L548.66 668.79L546.91 669.69L545.13 670.56L543.32 671.39L541.49 672.18L539.64 672.93L537.77 673.65L535.88 674.33L533.97 674.96L532.05 675.57L530.1 676.13L528.15 676.66L526.17 677.15L524.19 677.6L522.19 678.02L520.19 678.4L518.17 678.74L516.15 679.05L514.11 679.32L512.08 679.55L510.03 679.75L507.99 679.91L505.94 680.04L503.89 680.13L501.84 680.19L499.8 680.21L497.75 680.2L495.71 680.15L493.67 680.06L491.64 679.94L489.62 679.79L487.6 679.6Z" fill="url(#g3)"/>
<path d="M792.3 493.9L790.16 493.13L788.1 492.69L786.11 492.54L784.19 492.67L782.33 493.04L780.54 493.63L778.82 494.42L777.16 495.38L775.56 496.49L774.02 497.72L772.53 499.06L771.09 500.49L769.7 501.98L768.35 503.51L767.04 505.08L765.77 506.68L764.54 508.31L763.34 509.97L762.18 511.66L761.05 513.37L759.95 515.11L758.88 516.87L757.84 518.65L756.83 520.45L755.84 522.28L754.87 524.12L753.93 525.98L753 527.85L752.09 529.74L751.2 531.63L750.32 533.54L749.46 535.46L748.6 537.39L747.76 539.33L746.92 541.27L746.09 543.21L745.27 545.16L744.45 547.11L743.63 549.05L742.81 551L741.99 552.95L741.16 554.89L740.33 556.82L739.49 558.75L738.65 560.67L737.79 562.58L736.92 564.48L736.04 566.37L735.14 568.24L734.23 570.1L733.3 571.94L732.35 573.77L731.38 575.58L730.39 577.36L729.38 579.14L728.35 580.9L727.3 582.64L726.24 584.37L725.17 586.1L724.08 587.81L722.97 589.51L721.86 591.21L720.74 592.9L719.6 594.59L718.46 596.28L717.31 597.96L716.16 599.64L715 601.33L713.83 603.01L712.66 604.7L711.5 606.4L710.32 608.1L709.15 609.8L707.98 611.52L706.81 613.23L705.63 614.96L704.45 616.68L703.26 618.4L702.07 620.12L700.87 621.83L699.66 623.54L698.44 625.25L697.22 626.94L695.98 628.63L694.73 630.31L693.46 631.97L692.18 633.62L690.88 635.25L689.57 636.86L688.24 638.46L686.89 640.04L685.52 641.59L684.13 643.12L682.72 644.62L681.28 646.1L679.82 647.55L678.34 648.97L676.83 650.36L675.29 651.71L673.72 653.04L672.13 654.32L670.51 655.57L668.86 656.79L667.19 657.97L665.49 659.12L663.77 660.24L662.02 661.32L660.25 662.36L658.46 663.38L656.65 664.36L654.82 665.3L652.98 666.22L651.11 667.1L649.22 667.95L647.32 668.77L645.41 669.55L643.48 670.31L641.53 671.03L639.58 671.72L637.61 672.38L635.63 673L633.63 673.6L631.63 674.17L629.62 674.7L627.61 675.21L625.58 675.68L623.55 676.13L621.51 676.54L619.47 676.93L617.43 677.28L615.38 677.61L613.33 677.91L611.28 678.18L609.23 678.42L607.18 678.63L605.13 678.81L603.08 678.97L601.04 679.1L599 679.2L599 679.6L600.97 679.73L602.95 679.84L604.93 679.92L606.91 679.98L608.9 680.02L610.88 680.03L612.87 680.02L614.86 679.98L616.84 679.92L618.82 679.82L620.8 679.7L622.77 679.55L624.74 679.38L626.7 679.17L628.66 678.93L630.61 678.66L632.55 678.37L634.48 678.04L636.4 677.67L638.31 677.28L640.21 676.85L642.1 676.39L643.97 675.89L645.83 675.36L647.68 674.79L649.5 674.19L651.32 673.55L653.11 672.87L654.89 672.15L656.65 671.4L658.38 670.61L660.11 669.78L661.81 668.92L663.5 668.03L665.17 667.1L666.82 666.14L668.45 665.15L670.07 664.13L671.67 663.07L673.26 661.99L674.83 660.88L676.38 659.75L677.92 658.59L679.44 657.4L680.95 656.19L682.45 654.96L683.93 653.7L685.39 652.42L686.84 651.12L688.28 649.8L689.7 648.47L691.11 647.11L692.51 645.74L693.89 644.35L695.26 642.94L696.62 641.52L697.97 640.09L699.3 638.65L700.62 637.19L701.93 635.72L703.23 634.24L704.52 632.75L705.8 631.26L707.07 629.75L708.32 628.24L709.57 626.72L710.8 625.2L712.02 623.66L713.24 622.12L714.44 620.57L715.63 619.01L716.81 617.44L717.98 615.87L719.14 614.29L720.29 612.71L721.42 611.11L722.55 609.51L723.66 607.9L724.77 606.29L725.86 604.67L726.95 603.04L728.02 601.4L729.08 599.76L730.13 598.11L731.17 596.45L732.2 594.79L733.22 593.12L734.23 591.45L735.22 589.77L736.21 588.08L737.19 586.39L738.15 584.69L739.11 582.98L740.05 581.27L740.98 579.56L741.9 577.83L742.81 576.11L743.71 574.37L744.6 572.63L745.48 570.89L746.35 569.14L747.21 567.38L748.07 565.62L748.91 563.86L749.75 562.1L750.59 560.33L751.42 558.56L752.25 556.79L753.07 555.02L753.9 553.25L754.72 551.48L755.55 549.71L756.37 547.94L757.2 546.17L758.04 544.41L758.87 542.65L759.72 540.89L760.57 539.14L761.42 537.39L762.29 535.65L763.16 533.91L764.05 532.18L764.95 530.45L765.85 528.73L766.78 527.02L767.71 525.32L768.66 523.63L769.63 521.95L770.61 520.27L771.62 518.61L772.64 516.96L773.68 515.32L774.74 513.69L775.82 512.07L776.93 510.47L778.06 508.88L779.21 507.3L780.39 505.74L781.6 504.2Z" fill="url(#g4)"/>
<path d="M785.92 502.73L788.59 507.3L797.88 501.87L795.21 497.3ZM791.17 511.58L793.84 516.16L803.03 510.82L800.36 506.24ZM796.37 520.24L798.87 524.91L808.13 519.96L805.63 515.29ZM801.08 529.5L803.49 534.22L812.72 529.5L810.31 524.78ZM805.84 538.26L808.17 543.02L817.36 538.54L815.03 533.78ZM810.11 547.42L812.31 552.25L821.49 548.08L819.29 543.25ZM814.49 556.56L816.52 561.46L825.71 557.64L823.68 552.74ZM818.26 566.41L820.27 571.31L829.34 567.59L827.33 562.69ZM822.73 576.14L824.94 580.96L833.47 577.06L831.26 572.24ZM827.32 585.49L829.55 590.29L837.68 586.51L835.45 581.71ZM831.89 595.05L834.27 599.79L841.91 595.95L839.53 591.21ZM837.06 604.28L839.51 608.98L846.74 605.22L844.29 600.52ZM841.57 613.05L844.13 617.69L850.93 613.95L848.37 609.31ZM847.37 622.7L850.28 627.13L856.43 623.1L853.52 618.67ZM853.72 631.47L856.81 635.78L862.48 631.73L859.39 627.42ZM860.18 640.33L863.44 644.51L868.62 640.47L865.36 636.29ZM867.28 648.58L870.9 652.45L875.22 648.42L871.6 644.55ZM875 656L878.98 659.5L882.5 655.5L878.52 652ZM883.35 662.64L887.65 665.74L890.45 661.86L886.15 658.76ZM892.24 668.56L896.92 671.06L898.96 667.24L894.28 664.74ZM902.43 673.16L907.39 675.02L908.77 671.34L903.81 669.48ZM912.65 676.28L917.8 677.55L918.55 674.52L913.4 673.25ZM922.79 678.13L928.03 678.89L928.41 676.27L923.17 675.51ZM933.5 679.34L938.78 679.82L939 677.46L933.72 676.98ZM942.68 679.94L947.97 680.29L948.12 678.06L942.83 677.71Z" fill="url(#g4d)"/>
<path d="M737.66 680.7L742.85 680.49L742.74 677.7L737.55 677.91ZM747.52 680.45L752.71 680.04L752.48 677.15L747.29 677.56ZM758.25 679.55L763.4 678.81L762.95 675.65L757.8 676.39ZM769.1 678.08L774.18 676.96L773.4 673.42L768.32 674.54ZM780.09 675.61L785 673.91L783.71 670.19L778.8 671.89ZM790.91 671.64L795.56 669.32L793.59 665.36L788.94 667.68ZM801.2 666.45L805.47 663.49L802.6 659.35L798.33 662.31ZM810.51 659.65L814.46 656.27L810.69 651.85L806.74 655.23ZM819.09 652.53L822.78 648.86L818.41 644.47L814.72 648.14ZM827.18 644.31L830.46 640.28L825.32 636.09L822.04 640.12ZM834.43 635.17L837.41 630.91L831.57 626.83L828.59 631.09ZM840.62 626.37L843.5 622.04L837.18 617.83L834.3 622.16ZM847.13 617.3L849.8 612.83L842.87 608.7L840.2 613.17ZM852.64 607.76L855 603.13L847.36 599.24L845 603.87ZM858.01 597.7L860.23 592.99L851.99 589.1L849.77 593.81ZM862.7 587.95L864.85 583.22L856.1 579.25L853.95 583.98ZM867.32 577.97L869.48 573.25L860.68 569.23L858.52 573.95ZM871.85 568.21L873.9 563.43L864.95 559.59L862.9 564.37ZM875.95 558.1L878.04 553.34L869.05 549.4L866.96 554.16ZM881.08 547.39L883.06 542.58L873.92 538.81L871.94 543.62ZM885.04 536.65L886.82 531.76L877.46 528.35L875.68 533.24ZM888.79 526.7L890.61 521.83L881.21 518.3L879.39 523.17ZM892.53 516.75L894.4 511.9L884.97 508.25L883.1 513.1ZM896.26 507.4L898.19 502.57L888.74 498.8L886.81 503.63Z" fill="url(#g5)"/>
</g>
<g id="icons">
<g id="ship" fill="#ace8fb">
<path d="M414.6 232H455.8L448.6 239.2H418.2Q415.2 237.6 414.6 232Z"/>
<path d="M420.7 232.2V225.2H421.6V220.3H428.6V225.2H438.4V232.2Z"/>
<path d="M433.1 225.4L433.5 212.5L435 208.3L436.4 212.5L436.9 225.4Z"/>
<path d="M415 233.9H455M416 235.7H453M417 237.5H451M420.7 227H438.4M420.7 229H438.4M420.7 230.8H438.4M421.6 222.6H428.6" stroke="#e4f7fe" stroke-width="0.6" fill="none"/>
<circle cx="435.1" cy="235.6" r="3.1" fill="#d5f2fc"/>
</g>
<g id="train" fill="#60d2fb">
<path d="M527.9 421H538.4V422.4H539V423.2H547.6Q547.8 420.1 548.9 420.1Q550 420.1 550.2 423.2H554.8V419.3H558.3V423.2H561.9L561.3 416.7H564.5L563.9 423.2H565.1V418.8H566.8V430.6L569.8 434.6H566V433.5A2.7 2.7 0 0 1 560.6 434.6H559.9A2.7 2.7 0 0 1 554.5 434.6H553.6A2.7 2.7 0 0 1 548.2 434.6H547.3A2.7 2.7 0 0 1 541.9 434.6H538.9A2.7 2.7 0 0 1 533.5 434.6H530.7V422.4H527.9Z"/>
<path d="M532.3 424.2H536.6V428.2H532.3Z" fill="#a9e2fa"/>
</g>
<g id="car" fill="#22aef0">
<path d="M653.7 465.3V460.6Q653.9 457.2 658.6 457.2H667Q672.5 457.5 672.5 461.2V465.3ZM655.4 459.3V464.2H658.6V459.3ZM660.1 459.3V464.2H664.8V459.3ZM666.3 459.3V464.2H670.9V459.9Q670.6 459.3 669.8 459.3Z" fill-rule="evenodd"/>
<path d="M651.6 464.9H676.5Q683.6 465.6 684.1 469.6L683.8 472.2H650.2Q648.4 469.6 649.6 467.2Q650.3 465.4 651.6 464.9Z"/>
<circle cx="654.4" cy="471.8" r="4.4"/>
<circle cx="679.7" cy="471.2" r="4.4"/>
<circle cx="654.4" cy="471.8" r="1.6" fill="#7fcdf2"/>
<circle cx="679.7" cy="471.2" r="1.6" fill="#7fcdf2"/>
</g>
<g id="plane" fill="#0a7db5">
<path d="M755.1 466H758.9L769.2 474.6L797 474.9Q803 474.1 810.5 474.3Q817.2 475.4 818.9 478Q817.9 479.6 814.9 479.9V484H813.8V480.1L800.2 481.2L799.1 484.4L793.2 483.6L791.4 481.7Q779.5 481 770.5 479.2L755.4 476.5L757.6 474.9Z"/>
</g>
<g id="infinity" fill="none" stroke="#f408f2" stroke-width="4.5" stroke-linejoin="round">
<path d="M893.17 488.42L907.73 473.58A10.6 10.6 0 1 1 907.73 488.42L893.17 473.58A10.6 10.6 0 1 0 893.17 488.42Z"/>
<path d="M896.9 484.6L904 477.4" stroke="#fff" stroke-width="7.4"/>
<path d="M893.17 488.42L907.73 473.58"/>
</g>

</g>
<g id="labels">
<text x="288.7" y="206.55" font-size="7.6" fill="#555" font-weight="bold" textLength="10.3" lengthAdjust="spacingAndGlyphs">4%</text>
<text x="288.7" y="325.8" font-size="7.6" fill="#555" font-weight="bold" textLength="10.3" lengthAdjust="spacingAndGlyphs">3%</text>
<text x="288.7" y="443.6" font-size="7.6" fill="#555" font-weight="bold" textLength="10.3" lengthAdjust="spacingAndGlyphs">2%</text>
<text x="288.7" y="560.8" font-size="7.6" fill="#555" font-weight="bold" textLength="10.3" lengthAdjust="spacingAndGlyphs">1%</text>
<text x="288.7" y="679.7" font-size="7.6" fill="#555" font-weight="bold" textLength="10.3" lengthAdjust="spacingAndGlyphs">0%</text>
<text x="350.5" y="695.1" font-size="7.2" fill="#555" font-weight="bold" textLength="15.5" lengthAdjust="spacingAndGlyphs">1800</text>
<text x="455" y="695.1" font-size="7.2" fill="#555" font-weight="bold" textLength="15.5" lengthAdjust="spacingAndGlyphs">1850</text>
<text x="561.6" y="695.1" font-size="7.2" fill="#555" font-weight="bold" textLength="15.5" lengthAdjust="spacingAndGlyphs">1900</text>
<text x="668" y="695.1" font-size="7.2" fill="#555" font-weight="bold" textLength="14.6" lengthAdjust="spacingAndGlyphs">1950</text>
<text x="770" y="695.1" font-size="7.2" fill="#555" font-weight="bold" textLength="16.2" lengthAdjust="spacingAndGlyphs">2000</text>
<text x="875.5" y="695.1" font-size="7.2" fill="#555" font-weight="bold" textLength="15.8" lengthAdjust="spacingAndGlyphs">2050</text>
<text transform="translate(279.4 527.6) rotate(-90)" font-size="13.8" fill="#858a90" font-weight="bold" textLength="174.6" lengthAdjust="spacingAndGlyphs">GROWTH RATE (PERCENT)</text>
<text x="605" y="714.8" font-size="14.4" fill="#8b8f94" font-weight="bold" textLength="35.6" lengthAdjust="spacingAndGlyphs">YEAR</text>
<path d="M436 246H506.2" stroke="#a8a8a8" stroke-width="1" fill="none"/>
<text x="477.1" y="242.3" font-size="12.8" fill="#6e7073" font-weight="bold" textLength="29.1" lengthAdjust="spacingAndGlyphs">1836</text>
<text x="459.6" y="256.9" font-size="7" fill="#737578" font-weight="bold" textLength="46.8" lengthAdjust="spacingAndGlyphs">△t = 30 YEARS</text>
<path d="M550.5 443H620.8" stroke="#a8a8a8" stroke-width="1" fill="none"/>
<text x="592.6" y="438.6" font-size="12.8" fill="#6e7073" font-weight="bold" textLength="28.2" lengthAdjust="spacingAndGlyphs">1891</text>
<text x="574.2" y="453.8" font-size="7" fill="#737578" font-weight="bold" textLength="46.8" lengthAdjust="spacingAndGlyphs">△t = 55 YEARS</text>
<path d="M666.5 480.5H737.6" stroke="#a8a8a8" stroke-width="1" fill="none"/>
<text x="707.7" y="476.5" font-size="12.8" fill="#6e7073" font-weight="bold" textLength="29.9" lengthAdjust="spacingAndGlyphs">1946</text>
<text x="691" y="490.6" font-size="7" fill="#737578" font-weight="bold" textLength="46.8" lengthAdjust="spacingAndGlyphs">△t = 65 YEARS</text>
<path d="M779 492.5H857.2" stroke="#a8a8a8" stroke-width="1" fill="none"/>
<text x="825.7" y="488.2" font-size="12.8" fill="#6e7073" font-weight="bold" textLength="31.5" lengthAdjust="spacingAndGlyphs">2002</text>
<text x="810.6" y="503.1" font-size="7" fill="#737578" font-weight="bold" textLength="46.8" lengthAdjust="spacingAndGlyphs">△t = 70 YEARS</text>
</g>
<g id="caption">
<text x="553.6" y="767.7" font-size="19" fill="#000" font-weight="bold" textLength="143.8" lengthAdjust="spacingAndGlyphs" stroke="#000" stroke-width="0.45">NEXT PARADIGM</text>
<text x="383.9" y="791.9" font-size="19.1" fill="#000" textLength="482.3" lengthAdjust="spacingAndGlyphs" stroke="#000" stroke-width="0.25">Throughout the last two centuries there has been a shift in</text>
<text x="350.3" y="816" font-size="19.1" fill="#000" textLength="549.9" lengthAdjust="spacingAndGlyphs" stroke="#000" stroke-width="0.25">transportation paradigm every 50 to 70 years. Hyperloop will be the</text>
<text x="355.8" y="840.2" font-size="19.1" fill="#000" textLength="539.4" lengthAdjust="spacingAndGlyphs" stroke="#000" stroke-width="0.25">next logical step in the evolution of transportation, combining the</text>
<text x="342.1" y="864.3" font-size="19.1" fill="#000" textLength="565.9" lengthAdjust="spacingAndGlyphs" stroke="#000" stroke-width="0.25">speed of a plane with the capacity of a train and the convenience of a</text>
<text x="611.2" y="888.4" font-size="19.1" fill="#000" textLength="27.8" lengthAdjust="spacingAndGlyphs" stroke="#000" stroke-width="0.25">car.</text>
</g>
</svg>
</body>
</html>
